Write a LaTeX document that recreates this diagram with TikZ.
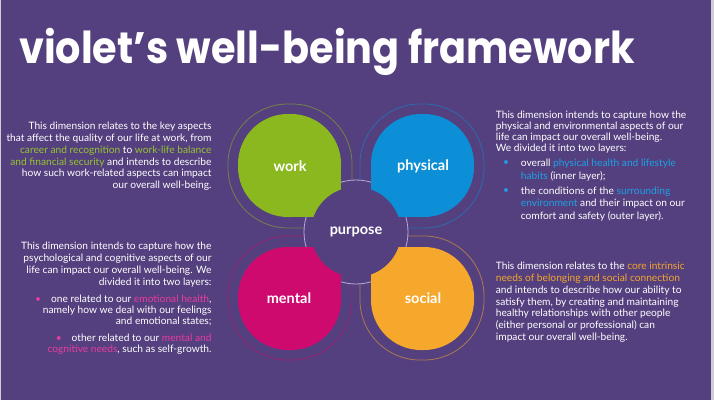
\documentclass[tikz,border=0pt]{standalone}
\usepackage{fontspec}
\setmainfont{Lato}
\newfontfamily\titlefont{Poppins}
\usetikzlibrary{positioning}

\definecolor{violetbg}{RGB}{84,64,126}
\definecolor{edgegrey}{RGB}{205,205,210}
\definecolor{ringc}{RGB}{185,170,218}
\definecolor{workc}{RGB}{139,183,31}
\definecolor{physc}{RGB}{12,143,214}
\definecolor{mentc}{RGB}{207,10,110}
\definecolor{socc}{RGB}{246,168,44}
\definecolor{worktx}{RGB}{150,195,50}
\definecolor{phystx}{RGB}{30,160,230}
\definecolor{menttx}{RGB}{232,60,160}
\definecolor{soctx}{RGB}{245,165,45}

\begin{document}
\begin{tikzpicture}[
  x=1pt, y=-1pt,
  body/.style={font=\fontsize{10.2}{11.7}\selectfont, text=white, inner sep=0pt},
  lbl/.style={font=\fontsize{14.5}{16}\selectfont\bfseries, text=white, inner sep=0pt},
  ringline/.style={line width=0.8pt, rounded corners=60pt},
  dot/.style={font=\fontsize{10.2}{11.7}\selectfont, inner sep=0pt},
]
  % --- page ---
  \fill[edgegrey] (0,0) rectangle (714,400);
  \fill[violetbg] (1,0) rectangle (711,400);
  \useasboundingbox (0,0) rectangle (714,400);

  % --- title ---
  \node[anchor=base west, inner sep=0pt, text=white,
        font=\titlefont\bfseries\fontsize{44}{50}\selectfont] (title) at (19,63)
    {\scalebox{0.905}[1]{violet’s well-being framework}};

  % --- centre of the flower ---
  \def\cx{356} \def\cy{232}

  % --- outer rings, one per quadrant ---
  \foreach \sx/\sy/\col in {-1/-1/workc, 1/-1/physc, -1/1/mentc, 1/1/socc}{
    \begin{scope}[shift={(\cx,\cy)}, xscale=\sx, yscale=\sy]
      \draw[ringline, \col!55!violetbg] (20,4) -- (128,4) -- (128,128) -- (4,128) -- (4,20);
    \end{scope}
  }

  % --- purpose ring ---
  \filldraw[fill=violetbg, draw=ringc, line width=0.8pt] (\cx,\cy) circle[radius=52];

  % --- petals ---
  \foreach \sx/\sy/\col in {-1/-1/workc, 1/-1/physc, -1/1/mentc, 1/1/socc}{
    \begin{scope}[shift={(\cx,\cy)}, xscale=\sx, yscale=\sy]
      \fill[\col] (15,15) rectangle (66,66);
      \fill[\col, rounded corners=50pt] (15,15) rectangle (118,118);
    \end{scope}
  }
  \fill[violetbg] (\cx,\cy) circle[radius=45];

  % --- labels ---
  \node[lbl] (purpose) at (\cx,\cy) {purpose};
  \node[lbl] (work) at (\cx-66,\cy-66) {work};
  \node[lbl] (physical) at (\cx+67,\cy-66) {physical};
  \node[lbl] (mental) at (\cx-67,\cy+66) {mental};
  \node[lbl] (social) at (\cx+67,\cy+66) {social};

  % --- work text ---
  \node[body, anchor=north east, align=right] (worktxt) at (211.7,122.2)
    {This dimension relates to the key aspects\\
     that affect the quality of our life at work, from\\
     \textcolor{worktx}{career and recognition} to \textcolor{worktx}{work-life balance}\\
     \textcolor{worktx}{and financial security} and intends to describe\\
     how such work-related aspects can impact\\
     our overall well-being.};

  % --- physical text ---
  \node[body, anchor=north west, align=left, font=\fontsize{10.2}{11.1}\selectfont] (phystxt) at (495.7,110.5)
    {This dimension intends to capture how the\\
     physical and environmental aspects of our\\
     life can impact our overall well-being.\\
     We divided it into two layers:};
  \node[body, anchor=north west, align=left, font=\fontsize{10.2}{12.6}\selectfont] (physa) at (520.7,158.8)
    {overall \textcolor{phystx}{physical health and lifestyle}\\
     \textcolor{phystx}{habits} (inner layer);};
  \node[body, anchor=north west, align=left, font=\fontsize{10.2}{12.6}\selectfont] (physb) at (520.7,186.5)
    {the conditions of the \textcolor{phystx}{surrounding}\\
     \textcolor{phystx}{environment} and their impact on our\\
     comfort and safety (outer layer).};
  \node[dot, text=phystx] (dota) at (506,163.3) {•};
  \node[dot, text=phystx] (dotb) at (506,191) {•};

  % --- mental text ---
  \node[body, anchor=north east, align=right] (menttxt) at (211.7,242.2)
    {This dimension intends to capture how the\\
     psychological and cognitive aspects of our\\
     life can impact our overall well-being. We\\
     divided it into two layers:};
  \node[body, anchor=north east, align=right, font=\fontsize{10.2}{11.2}\selectfont] (menta) at (211.7,294.8)
    {\textcolor{menttx}{•}\hspace{10pt}one related to our \textcolor{menttx}{emotional health},\\
     namely how we deal with our feelings\\
     and emotional states;};
  \node[body, anchor=north east, align=right, font=\fontsize{10.2}{10.5}\selectfont] (mentb) at (211.7,333.8)
    {\textcolor{menttx}{•}\hspace{10pt}other related to our \textcolor{menttx}{mental and}\\
     \textcolor{menttx}{cognitive needs}, such as self-growth.};

  % --- social text ---
  \node[body, anchor=north west, align=left] (soctxt) at (495.7,262.2)
    {This dimension relates to the \textcolor{soctx}{core intrinsic}\\
     \textcolor{soctx}{needs of belonging and social connection}\\
     and intends to describe how our ability to\\
     satisfy them, by creating and maintaining\\
     healthy relationships with other people\\
     (either personal or professional) can\\
     impact our overall well-being.};
\end{tikzpicture}
\end{document}
